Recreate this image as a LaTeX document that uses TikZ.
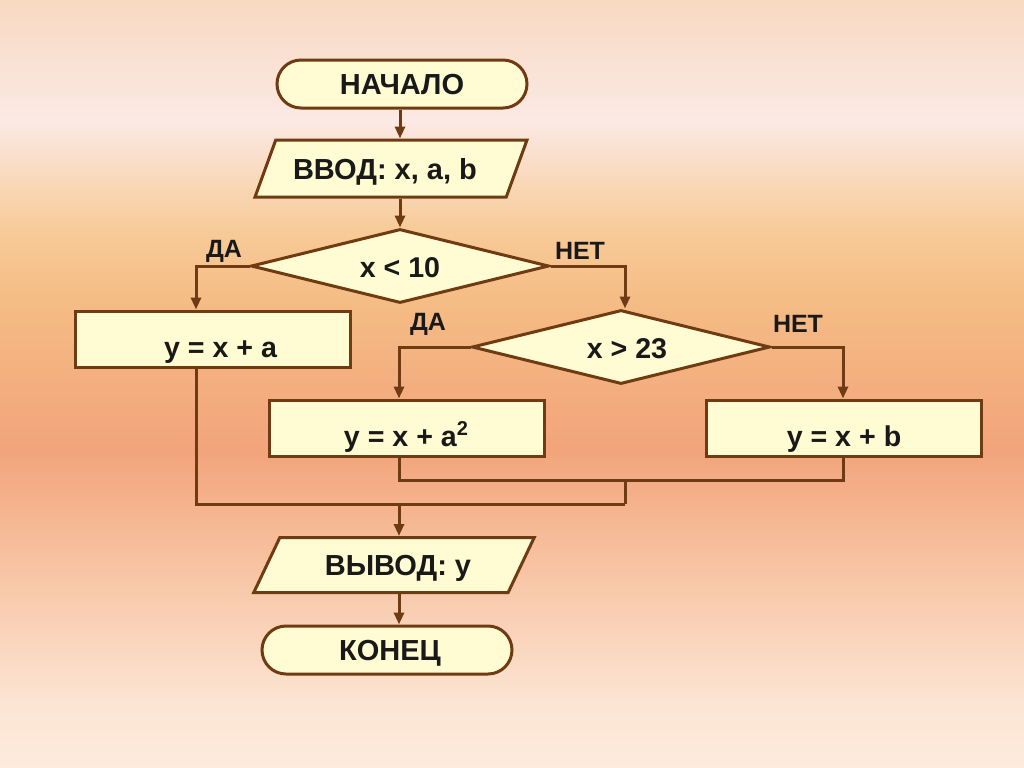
\documentclass[tikz,border=0pt]{standalone}
\usepackage{fontspec}
\setmainfont{Liberation Sans}
\usetikzlibrary{shapes.geometric,arrows.meta}
\definecolor{ln}{HTML}{6F3B12}
\definecolor{fl}{HTML}{FFFBD2}
\definecolor{bgA}{HTML}{F8D9C2}
\definecolor{bgB}{HTML}{FBE9E4}
\definecolor{bgC}{HTML}{F7CB98}
\definecolor{bgD}{HTML}{F5BC85}
\definecolor{bgE}{HTML}{F2A47B}
\definecolor{bgF}{HTML}{F7C2A0}
\definecolor{bgG}{HTML}{FCE4D2}
\definecolor{bgH}{HTML}{FDEBDD}
\tikzset{
  base/.style={draw=ln, fill=fl, line width=1.5pt, font=\bfseries\fontsize{14.5}{16}\selectfont, text=black!90, inner sep=0pt, text height=10.5pt, text depth=0pt},
  term/.style={base, rectangle, rounded corners=12pt, minimum width=125pt, minimum height=24pt},
  io/.style={base, trapezium, trapezium left angle=50, trapezium right angle=130, trapezium stretches=true, minimum width=136pt, minimum height=28.5pt},
  proc/.style={base, rectangle, minimum width=137.5pt, minimum height=28pt, font=\bfseries\fontsize{14.3}{16}\selectfont, text height=19pt, text depth=1pt},
  dec/.style={base, diamond, aspect=4, minimum width=149pt, minimum height=37pt, font=\bfseries\fontsize{14.3}{16}\selectfont, text height=11pt},
  lab/.style={font=\bfseries\fontsize{12.5}{14}\selectfont, text=black!90, inner sep=0pt},
  conn/.style={draw=ln, line width=1.5pt},
  arr/.style={conn, -{Triangle[length=6pt,width=5pt]}}
}
\begin{document}
\begin{tikzpicture}[x=0.5pt,y=-0.5pt]
\useasboundingbox (0,0) rectangle (1024,767);
\fill[top color=bgA,bottom color=bgB] (0,0) rectangle (1024,120.5);
\fill[top color=bgB,bottom color=bgC] (0,120) rectangle (1024,230.5);
\fill[top color=bgC,bottom color=bgD] (0,230) rectangle (1024,300.5);
\fill[top color=bgD,bottom color=bgE] (0,300) rectangle (1024,450.5);
\fill[top color=bgE,bottom color=bgF] (0,450) rectangle (1024,560.5);
\fill[top color=bgF,bottom color=bgG] (0,560) rectangle (1024,700.5);
\fill[top color=bgG,bottom color=bgH] (0,700) rectangle (1024,767);

\node[term] (start) at (402,84) {НАЧАЛО};
\node[io] (in) at (391,168.5) {ВВОД: x, a, b\hspace*{6pt}};
\node[dec] (d1) at (400,266) {x < 10};
\node[proc] (b1) at (212.5,339) {\hspace*{8pt}y = x + a};
\node[dec] (d2) at (621,347) {\hspace*{6pt}x > 23};
\node[proc] (b2) at (406.5,428) {y = x + a\textsuperscript{\fontsize{10}{10}\selectfont 2}};
\node[proc] (b3) at (844,428) {y = x + b};
\node[io, minimum width=141pt, minimum height=27.5pt] (out) at (394,565) {\hspace*{4pt}ВЫВОД: y};
\node[term] (end) at (387,650) {\hspace*{3pt}КОНЕЦ};

\node[lab] (l1) at (224,251) {ДА};
\node[lab] (l2) at (580,251) {НЕТ};
\node[lab] (l3) at (428,324) {ДА};
\node[lab] (l4) at (798,324) {НЕТ};

\coordinate (m1) at (625,480);
\coordinate (m2) at (625,504);

\draw[arr] (start.south -| 400,0) -- (in.north -| 400,0);
\draw[arr] (in.south -| 400,0) -- (d1.north);
\draw[arr] (d1.west) -| (b1.north -| 196,0);
\draw[arr] (d1.east) -| (d2.north -| 625,0);
\draw[arr] (d2.west) -| (b2.north -| 399,0);
\draw[arr] (d2.east) -| (b3.north -| 843,0);
\draw[conn] (b2.south -| 399,0) |- (m1);
\draw[conn] (b3.south -| 843,0) |- (m1);
\draw[conn] (m1) -- (m2);
\draw[conn] (b1.south -| 196,0) |- (m2);
\draw[arr] (m2 -| 399,0) -- (out.north -| 399,0);
\draw[arr] (out.south -| 399,0) -- (end.north -| 399,0);
\end{tikzpicture}
\end{document}
